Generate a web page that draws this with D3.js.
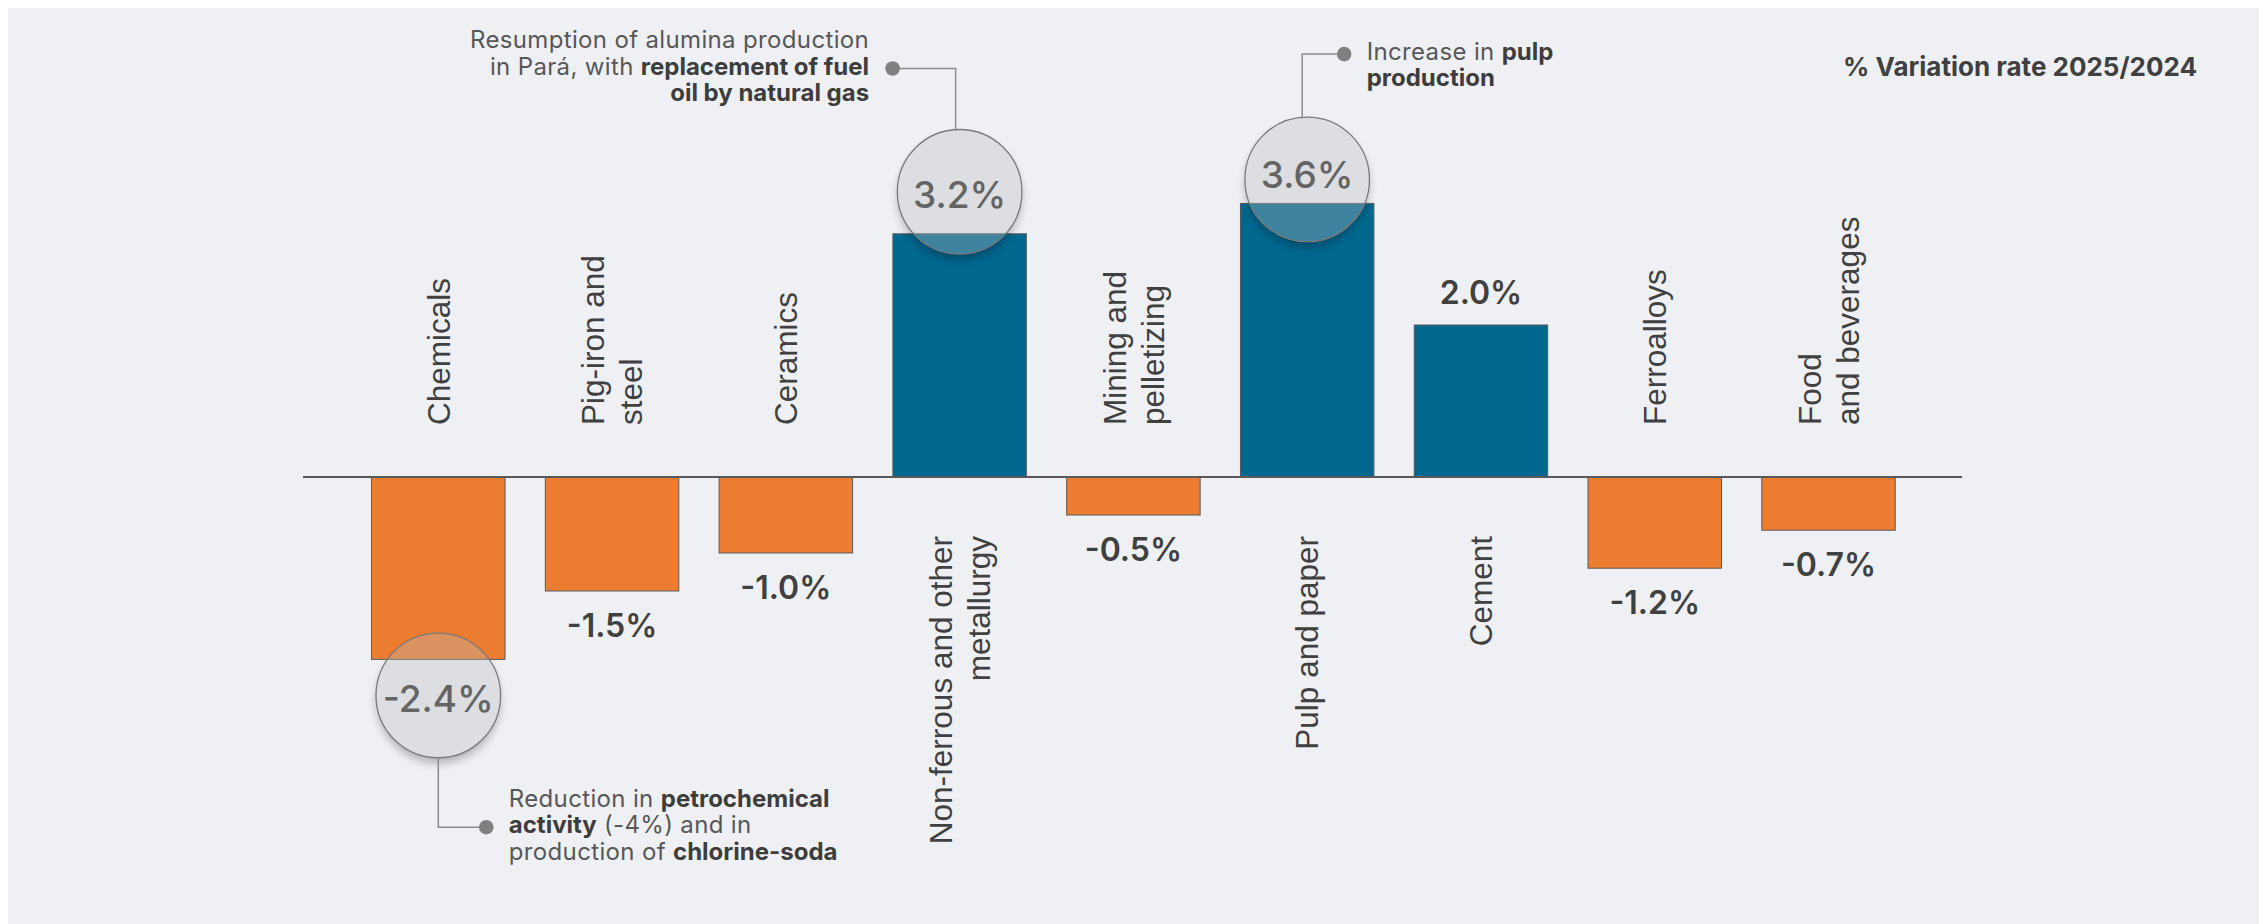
<!DOCTYPE html>
<html>
<head>
<meta charset="utf-8">
<script src="https://cdn.jsdelivr.net/npm/d3@7"></script>
<style>
  html, body { margin: 0; padding: 0; background: #ffffff; }
  svg { display: block; }
</style>
</head>
<body>
<div class="chart"></div>
<script>
const width = 2259;
const height = 924;

// data
const categories = ["Chemicals", "Pig-iron and steel", "Ceramics", "Non-ferrous and other metallurgy",
  "Mining and pelletizing", "Pulp and paper", "Cement", "Ferroalloys", "Food and beverages"];
const categoryLines = [["Chemicals"], ["Pig-iron and", "steel"], ["Ceramics"], ["Non-ferrous and other", "metallurgy"],
  ["Mining and", "pelletizing"], ["Pulp and paper"], ["Cement"], ["Ferroalloys"], ["Food", "and beverages"]];
const variation = [-2.4, -1.5, -1.0, 3.2, -0.5, 3.6, 2.0, -1.2, -0.7];
const chartTitle = "% Variation rate 2025/2024";

// highlighted bars with their notes, [text, bold] runs per line
const noteCategories = ["Non-ferrous and other metallurgy", "Pulp and paper", "Chemicals"];
const noteLines = [
  [[["Resumption of alumina production", false]],
   [["in Pará, with ", false], ["replacement of fuel", true]],
   [["oil by natural gas", true]]],
  [[["Increase in ", false], ["pulp", true]],
   [["production", true]]],
  [[["Reduction in ", false], ["petrochemical", true]],
   [["activity", true], [" (-4%) and in", false]],
   [["production of ", false], ["chlorine-soda", true]]]
];

// layout of the notes relative to their circle
const noteLayout = [
  { circleDy: -42, labelDy: 16, lineDx: -4, elbow: -61, dotDx: -63, side: "left", firstLine: 1 },
  { circleDy: -24, labelDy: 8.6, lineDx: -5, elbow: -63, dotDx: 42, side: "right", firstLine: 0 },
  { circleDy: 36, labelDy: 16.7, lineDx: 0, elbow: 69.5, dotDx: 48, side: "right", firstLine: 1 }
];

const bg = "#eff0f4";
const blue = "#00678f";
const orange = "#ed7d31";
const dark = "#404040";
const font = "Inter, 'Open Sans', sans-serif";
const labelFont = "'Liberation Sans', Arial, sans-serif";

const svg = d3.select(".chart").append("svg").attr("width", width).attr("height", height);
const defs = svg.append("defs");

svg.append("rect").attr("x", 8).attr("y", 8).attr("width", width - 8).attr("height", height - 8).attr("fill", bg);

const x = d3.scaleBand()
    .domain(categories)
    .range([351.4, 1915.4])
    .paddingInner(0.232)
    .paddingOuter(0.116);

const y = d3.scaleLinear()
    .domain([-2.4, 3.6])
    .range([477 + 2.4 * 76, 477 - 3.6 * 76]);

const rows = categories.map((c, i) => ({ cat: c, lines: categoryLines[i], value: variation[i] }));

// bars
svg.append("g").selectAll("rect")
  .data(rows)
  .enter()
    .append("rect")
    .attr("x", d => x(d.cat))
    .attr("y", d => Math.min(y(d.value), y(0)))
    .attr("width", x.bandwidth())
    .attr("height", d => Math.abs(y(d.value) - y(0)))
    .attr("fill", d => d.value >= 0 ? blue : orange)
    .attr("stroke", "#5a5a5a")
    .attr("stroke-width", 1);

// zero line
svg.append("line")
  .attr("x1", 303).attr("x2", 1962)
  .attr("y1", y(0)).attr("y2", y(0))
  .attr("stroke", "#595959")
  .attr("stroke-width", 2);

// category labels, rotated
const capH = 22.5, lineH = 38;
const catLabels = svg.append("g").selectAll("text")
  .data(rows)
  .enter()
    .append("text")
    .attr("transform", d => {
      const cx = x(d.cat) + x.bandwidth() / 2 + capH / 2 - (d.lines.length - 1) * lineH / 2;
      const ay = d.value < 0 ? y(0) - 52 : y(0) + 59;
      return `translate(${cx},${ay}) rotate(-90)`;
    })
    .attr("text-anchor", d => d.value < 0 ? "start" : "end")
    .attr("font-family", labelFont)
    .attr("font-size", 31.5)
    .attr("fill", dark);

catLabels.selectAll("tspan")
  .data(d => d.lines)
  .enter()
    .append("tspan")
    .attr("x", 0)
    .attr("dy", (l, i) => i === 0 ? 0 : lineH)
    .text(l => l);

// plain value labels
const fmt = v => v.toFixed(1) + "%";
svg.append("g").selectAll("text")
  .data(rows.filter(d => !noteCategories.includes(d.cat)))
  .enter()
    .append("text")
    .attr("x", d => x(d.cat) + x.bandwidth() / 2)
    .attr("y", d => d.value >= 0 ? y(d.value) - 21 : y(d.value) + 46)
    .attr("text-anchor", "middle")
    .attr("font-family", font)
    .attr("font-weight", 600)
    .attr("font-size", 32)
    .attr("fill", dark)
    .text(d => fmt(d.value));

// highlighted circles with notes
const r = 62.3;
const blur = defs.append("filter").attr("id", "blur")
  .attr("x", "-50%").attr("y", "-50%").attr("width", "200%").attr("height", "200%");
blur.append("feGaussianBlur").attr("stdDeviation", 5);

noteCategories.forEach((cat, k) => {
  const d = rows.find(row => row.cat === cat);
  const lay = noteLayout[k];
  const cx = x(cat) + x.bandwidth() / 2;
  const cy = y(d.value) + lay.circleDy;
  const g = svg.append("g");

  const mask = defs.append("mask").attr("id", "m" + k)
    .attr("maskUnits", "userSpaceOnUse")
    .attr("x", 0).attr("y", 0).attr("width", width).attr("height", height);
  mask.append("rect").attr("width", width).attr("height", height).attr("fill", "#fff");
  mask.append("circle").attr("cx", cx).attr("cy", cy).attr("r", r).attr("fill", "#000");

  g.append("circle")
    .attr("cx", cx).attr("cy", cy + 6).attr("r", r - 1)
    .attr("fill", "#000").attr("opacity", 0.28)
    .attr("filter", "url(#blur)")
    .attr("mask", `url(#m${k})`);

  g.append("circle")
    .attr("cx", cx).attr("cy", cy).attr("r", r)
    .attr("fill", "rgba(186,187,190,0.34)")
    .attr("stroke", "#7a7a7a")
    .attr("stroke-width", 1.3);

  g.append("text")
    .attr("x", cx).attr("y", cy + lay.labelDy)
    .attr("text-anchor", "middle")
    .attr("font-family", font)
    .attr("font-weight", 500)
    .attr("font-size", 37)
    .attr("fill", "#646464")
    .text(fmt(d.value));

  // connector
  const lx = cx + lay.lineDx;
  const y0 = lay.elbow < 0 ? cy - r : cy + r;
  const ey = y0 + lay.elbow;
  const dotX = lx + lay.dotDx;
  g.append("path")
    .attr("d", `M${lx},${y0}V${ey}H${dotX}`)
    .attr("fill", "none")
    .attr("stroke", "#8c8c8c")
    .attr("stroke-width", 1.5);
  g.append("circle").attr("cx", dotX).attr("cy", ey).attr("r", 7.3).attr("fill", "#808080");

  // note text
  const tx = lay.side === "left" ? dotX - 23.5 : dotX + 22.5;
  const lines = noteLines[k];
  const t = g.append("text")
    .attr("font-family", font)
    .attr("font-size", 24)
    .attr("text-anchor", lay.side === "left" ? "end" : "start");
  lines.forEach((runs, i) => {
    runs.forEach((run, j) => {
      const ts = t.append("tspan")
        .attr("font-weight", run[1] ? 700 : 400)
        .attr("letter-spacing", run[1] ? 0 : 0.35)
        .attr("fill", run[1] ? "#3d3d3d" : "#575757")
        .text(run[0]);
      if (j === 0) ts.attr("x", tx).attr("y", ey + 6 + (i - lay.firstLine) * 26.3);
    });
  });
});

// title
svg.append("text")
  .attr("x", 2197).attr("y", 76)
  .attr("text-anchor", "end")
  .attr("font-family", font)
  .attr("font-weight", 700)
  .attr("font-size", 26)
  .attr("fill", dark)
  .text(chartTitle);
</script>
</body>
</html>
